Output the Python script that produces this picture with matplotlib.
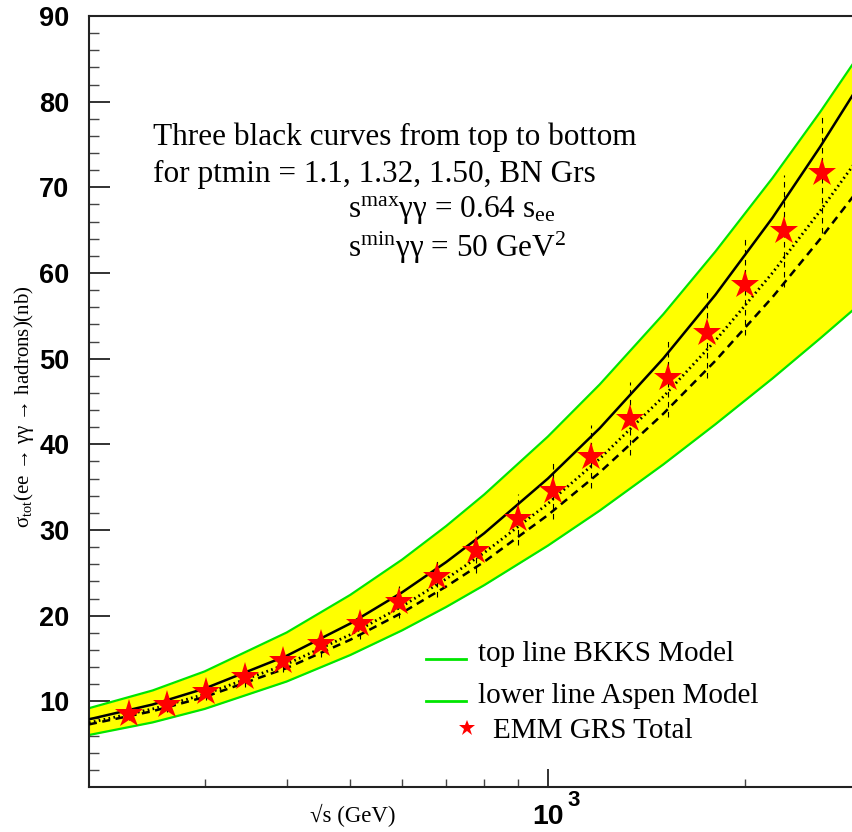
import matplotlib
matplotlib.use("Agg")
import matplotlib.pyplot as plt
from matplotlib.lines import Line2D

plt.rcParams['mathtext.fontset'] = 'custom'
plt.rcParams['mathtext.rm'] = 'Liberation Serif'
plt.rcParams['mathtext.it'] = 'Liberation Serif:italic'
plt.rcParams['mathtext.bf'] = 'Liberation Sans:bold'

# ---- data ----
curve_x = [200, 250, 300, 400, 500, 600, 700, 800, 1000, 1200, 1500, 1800, 2200, 2600, 3000]
bkks_top = [9.2, 11.27, 13.49, 18.03, 22.42, 26.55, 30.46, 34.14, 40.9, 47.0, 55.2, 62.5, 71.1, 78.8, 85.8]
aspen_low = [6.07, 7.54, 9.11, 12.31, 15.40, 18.29, 21.01, 23.56, 28.17, 32.27, 37.66, 42.34, 47.7, 52.37, 56.48]
ptmin_110 = [7.9, 9.63, 11.49, 15.31, 19.08, 22.73, 26.25, 29.62, 36.0, 41.89, 50.04, 57.45, 66.46, 74.74, 82.3]
ptmin_132 = [7.5, 9.11, 10.82, 14.34, 17.78, 21.10, 24.29, 27.34, 33.07, 38.33, 45.57, 52.11, 60.03, 67.26, 73.83]
ptmin_150 = [7.31, 8.85, 10.50, 13.88, 17.18, 20.35, 23.40, 26.29, 31.74, 36.73, 43.58, 49.75, 57.19, 63.97, 70.13]

emm_x = [230, 263, 302, 346, 395, 452, 518, 594, 678, 778, 902, 1018, 1164, 1334, 1525, 1749, 1997, 2291, 2618]
emm_y = [8.5, 9.6, 11.1, 12.8, 14.7, 16.7, 19.0, 21.6, 24.5, 27.5, 31.3, 34.5, 38.5, 43.0, 47.8, 53.0, 58.6, 64.9, 71.7]
emm_hi = [9.3, 10.5, 12.1, 13.9, 16.0, 18.2, 20.7, 23.5, 26.7, 30.0, 34.2, 37.8, 42.2, 47.3, 52.3, 58.3, 64.1, 71.4, 78.6]
emm_lo = [7.8, 8.8, 10.1, 11.7, 13.4, 15.2, 17.3, 19.7, 22.2, 25.0, 28.3, 31.3, 34.9, 38.7, 43.2, 47.8, 52.8, 58.4, 64.7]

y_major = [10, 20, 30, 40, 50, 60, 70, 80, 90]
x_minor = [300, 400, 500, 600, 700, 800, 900, 2000]

W, H = 852, 832
fig = plt.figure(figsize=(W / 100, H / 100), dpi=100)
left, right, top, bottom = 89, 861, 16, 787
ax = fig.add_axes([left / W, 1 - bottom / H, (right - left) / W, (bottom - top) / H])

GREEN = '#00e600'
ax.fill_between(curve_x, aspen_low, bkks_top, color='#ffff00', lw=0, zorder=1)
ax.plot(curve_x, bkks_top, color=GREEN, lw=1.6, zorder=2)
ax.plot(curve_x, aspen_low, color=GREEN, lw=1.6, zorder=2)
ax.plot(curve_x, ptmin_110, color='black', lw=1.8, zorder=3)
ax.plot(curve_x, ptmin_132, color='black', lw=2.0, ls=(0, (0.6, 1.2)), zorder=3)
ax.plot(curve_x, ptmin_150, color='black', lw=1.8, ls=(0, (3.2, 2.2)), zorder=3)
ax.vlines(emm_x, emm_lo, emm_hi, colors='black', lw=0.8, linestyles=(0, (5, 4)), zorder=4)
ax.plot(emm_x, emm_y, ls='none', marker='*', ms=21, color='red', mec='red', mew=0, zorder=5)

ax.set_xscale('log')
ax.set_xlim(200, 3000)
ax.set_ylim(0, 90)
ax.set_yticks(y_major)
ax.set_yticks(list(range(2, 90, 2)), minor=True)
ax.set_yticklabels([str(v) for v in y_major], fontfamily='Liberation Sans', fontweight='bold', fontsize=19.5)
ax.set_xticks([1000])
ax.set_xticklabels(['10'], fontfamily='Liberation Sans', fontweight='bold', fontsize=20.5)
ax.set_xticks(x_minor, minor=True)
ax.xaxis.set_minor_formatter(plt.NullFormatter())
ax.tick_params(axis='y', which='major', direction='in', length=15, width=1.3, pad=14, colors='#222222', labelcolor='black')
ax.tick_params(axis='y', which='minor', direction='in', length=7, width=1.0, colors='#444444')
ax.tick_params(axis='x', which='major', direction='in', length=13, width=1.3, pad=12, colors='#222222', labelcolor='black')
ax.tick_params(axis='x', which='minor', direction='in', length=6, width=1.0, colors='#444444')
for s in ['left', 'bottom', 'top']:
    ax.spines[s].set_linewidth(1.5)
    ax.spines[s].set_color('#222222')
ax.spines['right'].set_visible(False)

serif = ['Liberation Serif', 'DejaVu Serif']

def ftxt(x, y, s, **kw):
    fig.text(x / W, 1 - y / H, s, family=serif, va='baseline', **kw)

# exponent of the 10^3 tick label
fig.text(567 / W, 1 - 806 / H, '3', family='Liberation Sans', fontweight='bold', fontsize=16, va='baseline')

ftxt(153, 145, 'Three black curves from top to bottom', fontsize=22.5)
ftxt(153, 182, 'for ptmin = 1.1, 1.32, 1.50, BN Grs', fontsize=22.5)
ftxt(348, 217, r's$^{\mathrm{max}}$γγ = 0.64 s$_{\mathrm{ee}}$', fontsize=22.5)
ftxt(348, 257, r's$^{\mathrm{min}}$γγ = 50 GeV$^{2}$', fontsize=22.5)

# legend
for yy in (659, 701):
    fig.add_artist(Line2D([426 / W, 466 / W], [1 - yy / H, 1 - yy / H], color=GREEN, lw=2))
fig.add_artist(Line2D([467 / W], [1 - 728 / H], marker='*', ms=12, color='red', mew=0, ls='none'))
ftxt(478, 661, 'top line BKKS Model', fontsize=21)
ftxt(478, 703, 'lower line Aspen Model', fontsize=21)
ftxt(493, 738, 'EMM GRS Total', fontsize=21)

# axis titles
ftxt(310, 822, '√s (GeV)', fontsize=16.5)
fig.text(24 / W, 1 - 407 / H, r'σ$_{\mathrm{tot}}$(ee → γγ → hadrons)(nb)', family=serif,
         rotation=90, ha='center', va='center', fontsize=15)

fig.savefig('out.png', dpi=100)
